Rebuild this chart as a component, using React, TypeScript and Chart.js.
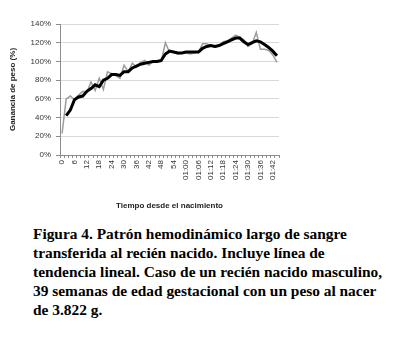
import React, { useEffect, useRef } from "react";
import { Chart, registerables } from "chart.js";

Chart.register(...registerables);

// Time since birth, one category every 2 minutes (0 .. 1:44)
const timeLabels = [
  "0", "2", "4", "6", "8", "10", "12", "14", "16", "18", "20", "22", "24", "26",
  "28", "30", "32", "34", "36", "38", "40", "42", "44", "46", "48", "50", "52",
  "54", "56", "58", "01:00", "01:02", "01:04", "01:06", "01:08", "01:10", "01:12",
  "01:14", "01:16", "01:18", "01:20", "01:22", "01:24", "01:26", "01:28", "01:30",
  "01:32", "01:34", "01:36", "01:38", "01:40", "01:42", "01:44",
];

// Measured weight gain (%)
const weightGain = [
  23, 60, 63, 59, 64, 68, 67, 78, 69, 82, 70, 89, 87, 85, 82, 96, 89, 98, 94, 99,
  101, 96, 100, 100, 100, 120, 110, 110, 108, 109, 109, 108, 109, 110, 119, 119,
  117, 115, 117, 121, 122, 125, 128, 126, 123, 116, 119, 131, 113, 113, 112, 107, 99,
];

// Trend line (%)
const trendGain = [
  null, 42, 48, 59, 62, 63, 68, 71, 75, 73, 80, 82, 86, 86, 85, 89, 89, 93, 95, 97,
  98, 99, 100, 100, 101, 108, 111, 110, 109, 109, 110, 110, 110, 110, 114, 116,
  117, 116, 117, 119, 121, 123, 125, 125, 121, 118, 120, 122, 121, 118, 115, 111, 106,
];

const yTicks = [0, 20, 40, 60, 80, 100, 120, 140];

const caption = [
  "Figura 4. Patrón hemodinámico largo de sangre",
  "transferida al recién nacido. Incluye línea de",
  "tendencia lineal. Caso de un recién nacido masculino,",
  "39 semanas de edad gestacional con un peso al nacer",
  "de 3.822 g.",
];

export default function App() {
  const canvasRef = useRef<HTMLCanvasElement | null>(null);

  useEffect(() => {
    if (!canvasRef.current) return;
    Chart.defaults.font.family = "'Liberation Sans', Arial, sans-serif";
    const chart = new Chart(canvasRef.current, {
      type: "line",
      data: {
        labels: timeLabels,
        datasets: [
          {
            data: trendGain,
            borderColor: "#000000",
            borderWidth: 3,
            pointRadius: 0,
            tension: 0,
            order: 0,
          },
          {
            data: weightGain,
            borderColor: "#9c9c9c",
            borderWidth: 1.5,
            pointRadius: 0,
            tension: 0,
            order: 1,
          },
        ],
      },
      options: {
        responsive: false,
        animation: false,
        layout: { padding: { top: 24, right: 11, left: 0, bottom: 0 } },
        plugins: {
          legend: { display: false },
          tooltip: { enabled: false },
        },
        scales: {
          x: {
            type: "category",
            offset: true,
            grid: {
              display: true,
              drawOnChartArea: false,
              offset: true,
              tickLength: 3,
              color: "#8c8c8c",
            },
            border: { color: "#8c8c8c" },
            ticks: {
              autoSkip: false,
              maxRotation: 90,
              minRotation: 90,
              padding: 2,
              color: "#333333",
              font: { size: 8 },
              callback: (_v: any, i: number) => (i % 3 === 0 ? timeLabels[i] : ""),
            },
            title: {
              display: true,
              text: "Tiempo desde el nacimiento",
              color: "#222222",
              font: { size: 8, weight: "bold" },
              padding: { top: 0, bottom: 4 },
            },
            afterFit: (s: any) => {
              s.height = 60;
            },
          },
          y: {
            min: 0,
            max: 140,
            afterBuildTicks: (s: any) => {
              s.ticks = yTicks.map((v) => ({ value: v }));
            },
            grid: { color: "#d9d9d9", tickLength: 4, tickColor: "#8c8c8c" },
            border: { color: "#8c8c8c" },
            ticks: {
              padding: 5,
              color: "#333333",
              font: { size: 8 },
              callback: (v: any) => v + "%",
            },
            title: {
              display: true,
              text: "Ganancia de peso (%)",
              color: "#222222",
              font: { size: 8, weight: "bold" },
              padding: { top: 8, bottom: 0 },
            },
            afterFit: (s: any) => {
              s.width = 60;
            },
          },
        },
      },
    });
    return () => chart.destroy();
  }, []);

  return (
    <div style={{ position: "absolute", left: 0, top: 0, width: 419, height: 339, background: "#fff" }}>
      <canvas
        ref={canvasRef}
        width={290}
        height={215}
        style={{ position: "absolute", left: 0, top: 0, width: 290, height: 215 }}
      />
      <div
        style={{
          position: "absolute",
          left: 33,
          top: 224,
          fontFamily: "'Liberation Serif', 'Times New Roman', serif",
          fontWeight: "bold",
          fontSize: 15.4,
          lineHeight: "19px",
          color: "#000",
          whiteSpace: "pre",
        }}
      >
        {caption.map((line, i) => (
          <div key={i}>{line}</div>
        ))}
      </div>
    </div>
  );
}
